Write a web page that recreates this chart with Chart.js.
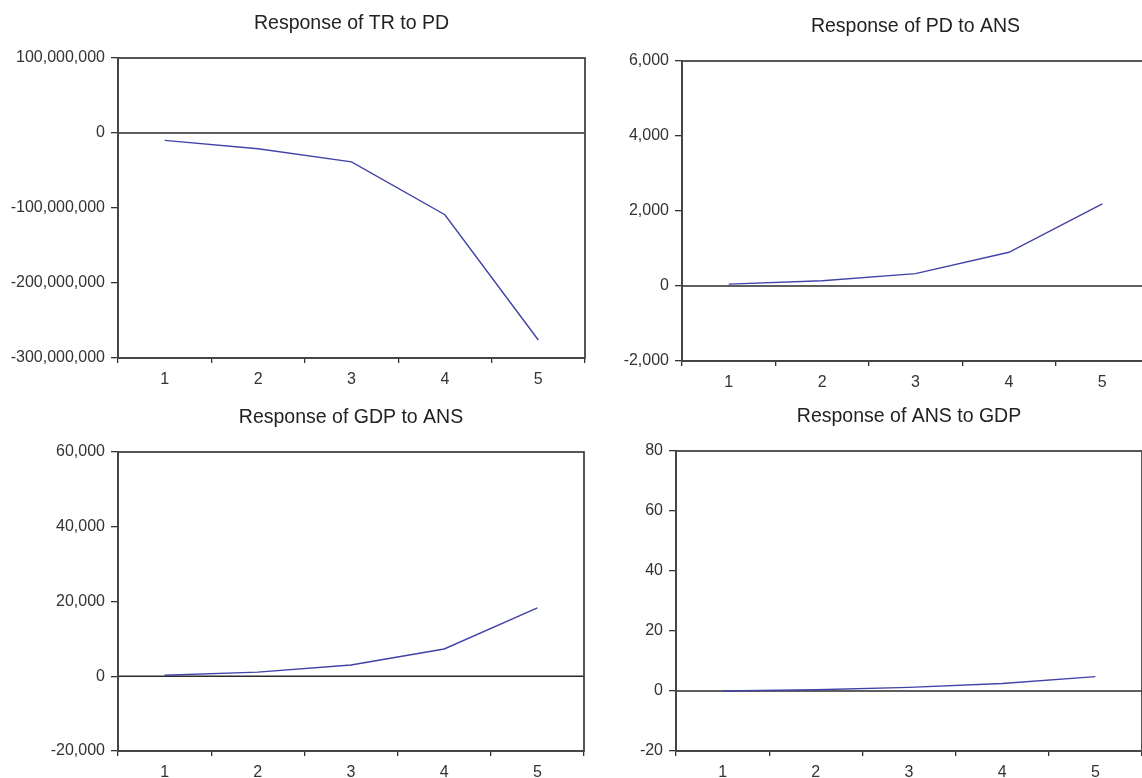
<!DOCTYPE html>
<html lang="en">
<head>
<meta charset="UTF-8">
<title>Impulse responses</title>
<script src="https://cdn.jsdelivr.net/npm/chart.js"></script>
<style>
  html, body { margin: 0; padding: 0; background: #fff; overflow: hidden; }
  #wrap { position: relative; width: 1142px; height: 778px; overflow: hidden; background: #fff; }
  #wrap canvas { position: absolute; }
</style>
</head>
<body>
<div id="wrap">
  <canvas id="c1"></canvas>
  <canvas id="c2"></canvas>
  <canvas id="c3"></canvas>
  <canvas id="c4"></canvas>
</div>
<script>
// periods on the x axis
const periods = ['1', '2', '3', '4', '5'];

// response values
const trToPd = [-9800000, -21000000, -38500000, -109000000, -276000000];
const pdToAns = [50, 140, 330, 900, 2190];
const gdpToAns = [250, 1100, 3000, 7300, 18300];
const ansToGdp = [0, 0.4, 1.2, 2.5, 4.8];

// y tick labels of each panel
const trToPdTicks = [-300000000, -200000000, -100000000, 0, 100000000];
const pdToAnsTicks = [-2000, 0, 2000, 4000, 6000];
const gdpToAnsTicks = [-20000, 0, 20000, 40000, 60000];
const ansToGdpTicks = [-20, 0, 20, 40, 60, 80];

const FONT = "'Liberation Sans', Arial, sans-serif";
const LINE = '#4242a8';
const AXIS = '#444';
const YW = 116;       // width of the y axis box
const XH = 34;        // height of the x axis box
const PAD_R = 2;
const T_TOP = 12, T_LH = 24, T_BOT = 22;
const TITLE_H = T_TOP + T_LH + T_BOT;

// plot areas in page pixels
const panels = [
  { id: 'c1', title: 'Response of TR to PD', values: trToPd, ticks: trToPdTicks, left: 118, top: 58, right: 585, bottom: 358 },
  { id: 'c2', title: 'Response of PD to ANS', values: pdToAns, ticks: pdToAnsTicks, left: 682, top: 61, right: 1149, bottom: 361 },
  { id: 'c3', title: 'Response of GDP to ANS', values: gdpToAns, ticks: gdpToAnsTicks, left: 118, top: 452, right: 584, bottom: 751 },
  { id: 'c4', title: 'Response of ANS to GDP', values: ansToGdp, ticks: ansToGdpTicks, left: 676, top: 451, right: 1142, bottom: 751 }
];

// box round the plot plus the zero line
const frame = {
  id: 'frame',
  beforeDatasetsDraw(chart) {
    const { ctx, chartArea: a, scales: { y } } = chart;
    const y0 = y.getPixelForValue(0);
    ctx.save();
    ctx.strokeStyle = '#2a2a2a';
    ctx.lineWidth = 1.5;
    ctx.beginPath();
    ctx.moveTo(a.left, y0);
    ctx.lineTo(a.right, y0);
    ctx.stroke();
    ctx.restore();
  },
  afterDraw(chart) {
    const { ctx, chartArea: a } = chart;
    ctx.save();
    ctx.strokeStyle = AXIS;
    ctx.lineWidth = 1.8;
    ctx.strokeRect(a.left, a.top, a.right - a.left, a.bottom - a.top);
    ctx.restore();
  }
};

function makeChart(p) {
  const canvas = document.getElementById(p.id);
  canvas.width = YW + (p.right - p.left) + PAD_R;
  canvas.height = TITLE_H + (p.bottom - p.top) + XH;
  canvas.style.left = (p.left - YW) + 'px';
  canvas.style.top = (p.top - TITLE_H) + 'px';

  const tickFont = { family: FONT, size: 16 };

  new Chart(canvas, {
    type: 'line',
    data: {
      labels: periods,
      datasets: [{
        data: p.values,
        borderColor: LINE,
        borderWidth: 1.4,
        pointRadius: 0,
        tension: 0,
        fill: false
      }]
    },
    options: {
      responsive: false,
      animation: false,
      layout: { padding: { left: 0, right: PAD_R, top: 0, bottom: 0 } },
      plugins: {
        legend: { display: false },
        tooltip: { enabled: false },
        title: {
          display: true,
          text: p.title,
          fullSize: false,
          color: '#222',
          font: { family: FONT, size: 19.5, weight: 'normal', lineHeight: T_LH + 'px' },
          padding: { top: T_TOP, bottom: T_BOT }
        }
      },
      scales: {
        x: {
          type: 'category',
          offset: true,
          grid: { offset: true, drawOnChartArea: false, tickLength: 5, color: '#333', lineWidth: 1.3 },
          border: { color: AXIS, width: 1.8 },
          ticks: { color: '#333', font: tickFont, padding: 7, maxRotation: 0, autoSkip: false },
          afterFit: s => { s.height = XH; }
        },
        y: {
          min: p.ticks[0],
          max: p.ticks[p.ticks.length - 1],
          ticks: {
            stepSize: p.ticks[1] - p.ticks[0],
            color: '#333',
            font: tickFont,
            padding: 6,
            callback: v => v.toLocaleString('en-US')
          },
          grid: { drawOnChartArea: false, tickLength: 7, color: '#333', lineWidth: 1.3 },
          border: { color: AXIS, width: 1.8 },
          afterFit: s => { s.width = YW; }
        }
      }
    },
    plugins: [frame]
  });
}

panels.forEach(makeChart);
</script>
</body>
</html>
